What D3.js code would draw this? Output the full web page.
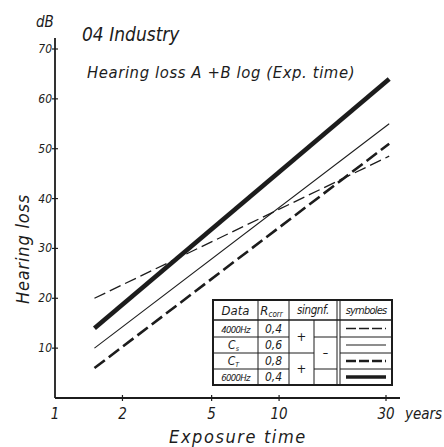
<!DOCTYPE html>
<html>
<head>
<meta charset="utf-8">
<script src="https://cdn.jsdelivr.net/npm/d3@7.9.0/dist/d3.min.js"></script>
<style>
  body { margin: 0; background: #fff; }
  svg text { font-family: "DejaVu Sans Condensed", "DejaVu Sans", sans-serif; font-style: italic; fill: #1c1c1c; }
</style>
</head>
<body>
<svg width="444" height="447"></svg>
<script>
// data
const years = [1.5, 31];
const series = [
  { name: '4000Hz', r: '0,4', values: [20, 48.5], width: 1.3, dash: '12,5' },
  { name: 'Cs', r: '0,6', values: [10, 55], width: 1.1, dash: null },
  { name: 'CT', r: '0,8', values: [6, 51], width: 2.6, dash: '13,5' },
  { name: '6000Hz', r: '0,4', values: [14, 64], width: 4.6, dash: null }
];
const xTicks = [1, 2, 5, 10, 30];
const yTicks = [10, 20, 30, 40, 50, 60, 70];

const svg = d3.select('svg');
const ink = '#1c1c1c';

const x = d3.scaleLog().domain([1, 30]).range([55, 386]);
const y = d3.scaleLinear().domain([0, 70]).range([398, 49]);

// axes
svg.append('line').attr('x1', 55).attr('x2', 55).attr('y1', 38).attr('y2', 398)
  .attr('stroke', ink).attr('stroke-width', 1.8);
svg.append('line').attr('x1', 55).attr('x2', 400).attr('y1', 398).attr('y2', 398)
  .attr('stroke', ink).attr('stroke-width', 1.8);

yTicks.forEach(v => {
  svg.append('line').attr('x1', 52).attr('x2', 58).attr('y1', y(v)).attr('y2', y(v))
    .attr('stroke', ink).attr('stroke-width', 1.2);
  svg.append('text').attr('x', 52).attr('y', y(v) + 4).attr('text-anchor', 'end')
    .attr('font-size', 12).text(v);
});

xTicks.forEach(v => {
  if (v > 1) {
    svg.append('line').attr('x1', x(v)).attr('x2', x(v)).attr('y1', 395).attr('y2', 401)
      .attr('stroke', ink).attr('stroke-width', 1.2);
  }
  svg.append('text').attr('x', x(v)).attr('y', 419).attr('text-anchor', 'middle')
    .attr('font-size', 15).text(v);
});

svg.append('text').attr('x', 405).attr('y', 419).attr('font-size', 15).text('years');
svg.append('text').attr('x', 238).attr('y', 443).attr('text-anchor', 'middle')
  .attr('font-size', 18).attr('letter-spacing', 1.6).text('Exposure  time');

svg.append('text').attr('transform', 'translate(29,249) rotate(-90)').attr('text-anchor', 'middle')
  .attr('font-size', 18).attr('letter-spacing', 0.8).text('Hearing loss');

svg.append('text').attr('x', 36).attr('y', 27).attr('font-size', 15).text('dB');
svg.append('text').attr('x', 82).attr('y', 41).attr('font-size', 19).text('04 Industry');
svg.append('text').attr('x', 87).attr('y', 78).attr('font-size', 16.5).attr('letter-spacing', 0.6)
  .text('Hearing loss  A +B log (Exp. time)');

// regression lines
const line = d3.line().x(d => x(d[0])).y(d => y(d[1]));
series.forEach(s => {
  svg.append('path')
    .attr('d', line(years.map((t, i) => [t, s.values[i]])))
    .attr('fill', 'none').attr('stroke', ink)
    .attr('stroke-width', s.width)
    .attr('stroke-dasharray', s.dash);
});

// legend table
const cols = [213, 258, 289, 314, 337, 392];
const rows = [300, 320, 337, 353, 369, 385];
const tbl = svg.append('g');
tbl.append('rect').attr('x', cols[0]).attr('y', rows[0])
  .attr('width', cols[5] - cols[0]).attr('height', rows[5] - rows[0])
  .attr('fill', '#fff').attr('stroke', ink).attr('stroke-width', 2);
const seg = (x1, y1, x2, y2, w) => tbl.append('line')
  .attr('x1', x1).attr('y1', y1).attr('x2', x2).attr('y2', y2)
  .attr('stroke', ink).attr('stroke-width', w || 1);
[cols[1], cols[2]].forEach(c => seg(c, rows[0], c, rows[5]));
seg(cols[3], rows[1], cols[3], rows[5]);
seg(cols[4], rows[0], cols[4], rows[5]);
seg(cols[4] + 3, rows[0], cols[4] + 3, rows[5]);
seg(cols[0], rows[1], cols[5], rows[1], 1.4);
[rows[2], rows[3], rows[4]].forEach(r => {
  seg(cols[0], r, cols[2], r);
  seg(cols[4] + 3, r, cols[5], r);
});
seg(cols[2], rows[3], cols[3], rows[3]);
seg(cols[3], rows[2], cols[4], rows[2]);
seg(cols[3], rows[4], cols[4], rows[4]);

const cell = (cx, cy, txt, size) => tbl.append('text').attr('x', cx).attr('y', cy)
  .attr('text-anchor', 'middle').attr('font-size', size || 11).text(txt);
cell((cols[0] + cols[1]) / 2, rows[1] - 5, 'Data', 13);
const rc = cell((cols[1] + cols[2]) / 2 - 2, rows[1] - 5, 'R', 13);
rc.append('tspan').attr('font-size', 8).attr('dy', 2).text('corr');
cell((cols[2] + cols[4]) / 2, rows[1] - 6, 'singnf.', 11.5).attr('letter-spacing', -0.4);
cell((cols[4] + 3 + cols[5]) / 2, rows[1] - 6, 'symboles', 11).attr('letter-spacing', -0.8);

series.forEach((s, i) => {
  const cy = (rows[i + 1] + rows[i + 2]) / 2 + 4;
  if (s.name.startsWith('C')) {
    cell((cols[0] + cols[1]) / 2 - 2, cy, 'C', 12)
      .append('tspan').attr('font-size', 7).attr('dy', 2).text(s.name.slice(1) === 's' ? 's' : 'T');
  } else {
    cell((cols[0] + cols[1]) / 2, cy, s.name, 9.5).attr('letter-spacing', -0.7);
  }
  cell((cols[1] + cols[2]) / 2, cy, s.r, 12);
  tbl.append('line')
    .attr('x1', cols[4] + 9).attr('x2', cols[5] - 6)
    .attr('y1', cy - 4).attr('y2', cy - 4)
    .attr('stroke', ink).attr('stroke-width', Math.min(s.width, 3.6))
    .attr('stroke-dasharray', s.dash ? '10,3' : null);
});
cell((cols[2] + cols[3]) / 2, rows[2] + 4, '+', 13);
cell((cols[2] + cols[3]) / 2, rows[4] + 4, '+', 13);
cell((cols[3] + cols[4]) / 2, rows[3] + 4, '–', 12);
</script>
</body>
</html>
